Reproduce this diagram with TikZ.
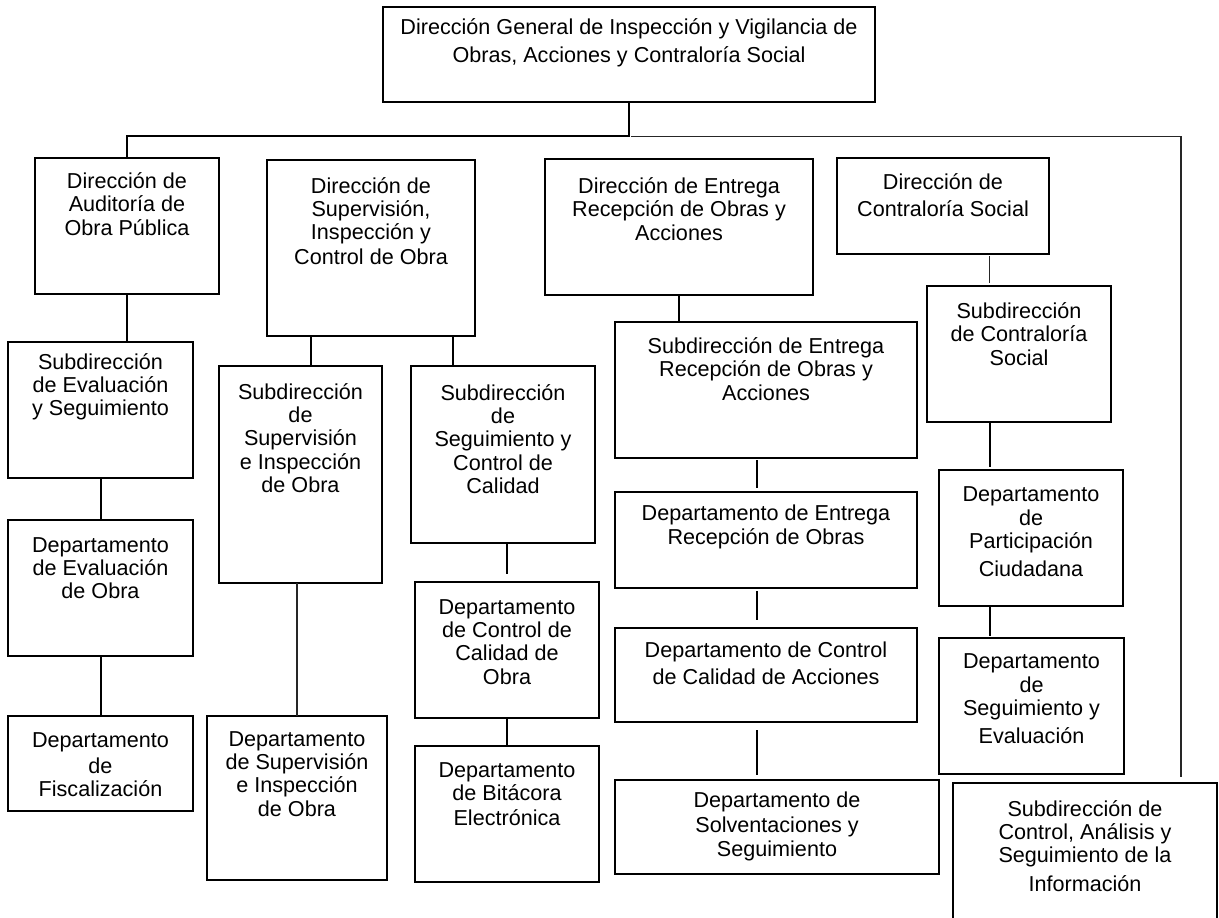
\documentclass[tikz,border=0pt]{standalone}
\usepackage{fontspec}
\setmainfont{Liberation Sans}
\usetikzlibrary{calc}
\newcommand\orgbox[5]{\node[box, minimum width={(#4-#2)*0.75pt}, minimum height={(#5-#3)*0.75pt}] (#1) at (#2,#3) {};}
\begin{document}
\begin{tikzpicture}[x=0.75pt,y=-0.75pt,
  box/.style={draw=black, line width=1.5pt, inner sep=0pt, outer sep=0pt, anchor=north west},
  txt/.style={align=center, inner sep=0pt, font=\fontsize{16.2}{17.4}\selectfont},
  conn/.style={draw=black, line width=1.5pt},
  thinconn/.style={draw=black!85, line width=1.1pt}]
\useasboundingbox[fill=white] (0,0) rectangle (1219,917);
% boxes
\orgbox{tb}{383}{7}{875}{102}
\orgbox{a1}{35}{158}{219}{294}
\orgbox{a2}{267}{160}{475}{336}
\orgbox{a3}{545}{159}{813}{295}
\orgbox{a4}{837}{158}{1049}{254}
\orgbox{b1}{8}{342}{193}{478}
\orgbox{c1}{8}{520}{193}{656}
\orgbox{d1}{8}{716}{193}{811}
\orgbox{b2a}{219}{366}{382}{583}
\orgbox{d2a}{207}{716}{387}{880}
\orgbox{b2b}{411}{366}{595}{543}
\orgbox{c2b}{415}{582}{599}{718}
\orgbox{d2b}{415}{746}{599}{882}
\orgbox{b3}{615}{322}{917}{458}
\orgbox{c3}{615}{492}{917}{588}
\orgbox{d3}{615}{628}{917}{722}
\orgbox{e3}{615}{780}{939}{874}
\orgbox{b4}{927}{286}{1111}{422}
\orgbox{c4}{939}{470}{1123}{606}
\orgbox{d4}{939}{638}{1124}{774}
\orgbox{f}{953}{783}{1217}{935}
% texts
\node[txt] (tbt) at (629,43) {Dirección General de Inspección y Vigilancia de\\[4pt]Obras, Acciones y Contraloría Social};
\node[txt] (a1t) at (127,204) {Dirección de\\Auditoría de\\Obra Pública};
\node[txt] (a2t) at (371,221) {Dirección de\\Supervisión,\\Inspección y\\[1.5pt]Control de Obra};
\node[txt] (a3t) at (679,209) {Dirección de Entrega\\Recepción de Obras y\\Acciones};
\node[txt] (a4t) at (943,195) {Dirección de\\[3pt]Contraloría Social};
\node[txt] (b1t) at (100.5,387) {Subdirección\\de Evaluación\\y Seguimiento};
\node[txt] (c1t) at (100.5,568) {Departamento\\de Evaluación\\de Obra};
\node[txt] (d1t) at (100.5,765) {Departamento\\[2pt]de\\Fiscalización};
\node[txt] (b2at) at (300.5,438) {Subdirección\\de\\Supervisión\\e Inspección\\de Obra};
\node[txt] (d2at) at (297,774) {Departamento\\de Supervisión\\e Inspección\\de Obra};
\node[txt] (b2bt) at (503,439) {Subdirección\\de\\Seguimiento y\\Control de\\Calidad};
\node[txt] (c2bt) at (507,642) {Departamento\\de Control de\\Calidad de\\Obra};
\node[txt] (d2bt) at (507,794) {Departamento\\de Bitácora\\[1.5pt]Electrónica};
\node[txt] (b3t) at (766,369) {Subdirección de Entrega\\Recepción de Obras y\\Acciones};
\node[txt] (c3t) at (766,527) {Departamento de Entrega\\Recepción de Obras};
\node[txt] (d3t) at (766,663) {Departamento de Control\\[3pt]de Calidad de Acciones};
\node[txt] (e3t) at (777,826) {Departamento de\\[2pt]Solventaciones y\\Seguimiento};
\node[txt] (b4t) at (1019,334) {Subdirección\\de Contraloría\\Social};
\node[txt] (c4t) at (1031,532) {Departamento\\de\\Participación\\[4pt]Ciudadana};
\node[txt] (d4t) at (1031.5,699) {Departamento\\de\\Seguimiento y\\[4pt]Evaluación};
\node[txt] (ft) at (1085,846) {Subdirección de\\Control, Análisis y\\Seguimiento de la\\[4pt]Información};
% connectors
\draw[conn] (tb.south) -- ++(0,34) -| (a1.north);
\coordinate (rb0) at (631,136.5);
\coordinate (rb1) at (1181,136.5);
\coordinate (rb2) at (1181,777);
\draw[thinconn] (rb0) -- (rb1) -- (rb2);
\draw[conn] (a1.south) -- (a1.south |- b1.north);
\draw[conn] (b1.south) -- (c1.north);
\draw[conn] (c1.south) -- (d1.north);
\coordinate (k2a) at (311,0);
\coordinate (k2b) at (453,0);
\draw[conn] (k2a |- a2.south) -- (k2a |- b2a.north);
\draw[conn] (k2b |- a2.south) -- (k2b |- b2b.north);
\draw[thinconn] (d2a.north |- b2a.south) -- (d2a.north);
\draw[conn, shorten >=6pt] (c2b.north |- b2b.south) -- (c2b.north);
\draw[conn] (c2b.south) -- (d2b.north);
\draw[conn] (a3.south) -- (a3.south |- b3.north);
\coordinate (k3) at (757,0);
\draw[conn, shorten <=1.5pt, shorten >=3pt] (k3 |- b3.south) -- (k3 |- c3.north);
\draw[conn, shorten <=2.25pt, shorten >=6pt] (k3 |- c3.south) -- (k3 |- d3.north);
\draw[conn, shorten <=6pt, shorten >=3.75pt] (k3 |- d3.south) -- (k3 |- e3.north);
\coordinate (k4) at (989.5,0);
\draw[thinconn, shorten <=1.5pt, shorten >=2.25pt] (k4 |- a4.south) -- (k4 |- b4.north);
\draw[conn, shorten >=2.25pt] (k4 |- b4.south) -- (k4 |- c4.north);
\draw[conn, shorten >=1.5pt] (k4 |- c4.south) -- (k4 |- d4.north);
\end{tikzpicture}
\end{document}
